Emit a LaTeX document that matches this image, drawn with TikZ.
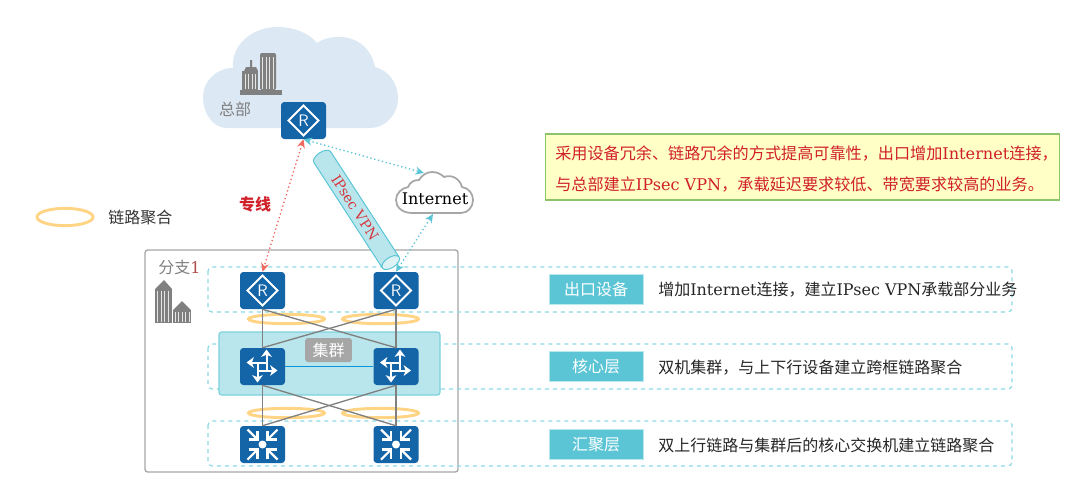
\documentclass[tikz,border=0pt]{standalone}
\usepackage{fontspec}
\setmainfont{DejaVu Serif}
\newfontfamily\cjk{Noto Sans CJK SC}
\usetikzlibrary{arrows.meta,shapes.geometric}
\definecolor{devblue}{HTML}{1464A8}
\definecolor{layerteal}{HTML}{5BC5D5}
\definecolor{dashteal}{HTML}{8ADAE4}
\definecolor{ringgold}{HTML}{FFD485}
\definecolor{linkgray}{HTML}{808080}
\definecolor{noteRed}{HTML}{D0202A}
\definecolor{hqblue}{HTML}{DCE8F4}
\definecolor{clusterfill}{HTML}{B9E6EC}
\definecolor{notefill}{HTML}{FFFFC6}
\definecolor{noteedge}{HTML}{8CC46A}
\definecolor{wanred}{HTML}{EE6A60}
\newcommand{\zh}[1]{{\cjk #1}}
\tikzset{
  devbox/.style={fill=devblue,rounded corners=2.5pt,minimum width=33.75pt,minimum height=27.75pt,inner sep=0pt},
  layerbox/.style={draw=dashteal,dashed,line width=0.9pt,rounded corners=3pt},
  layertag/.style={fill=layerteal,draw=dashteal!60,text=white,minimum width=70.5pt,minimum height=22.5pt,inner sep=0pt,font=\fontsize{12}{14}\selectfont},
  layertext/.style={anchor=west,inner sep=0pt,text=black!85,font=\fontsize{12}{14}\selectfont},
  lagring/.style={ellipse,draw=ringgold,line width=2.2pt,minimum width=57pt,minimum height=7pt,inner sep=0pt},
  uplink/.style={draw=linkgray,line width=1pt},
  redarrow/.style={draw=wanred,dotted,line width=1pt,{Stealth[length=6.5pt,width=6pt]}-{Stealth[length=6.5pt,width=6pt]}},
  tealarrow/.style={draw=layerteal,dotted,line width=1pt,{Stealth[length=6.5pt,width=6pt]}-{Stealth[length=6.5pt,width=6pt]}},
  arrowwhite/.style={draw=white,line width=1.5pt,-{Stealth[length=5.5pt,width=8pt,inset=1.5pt]}},
  routericon/.pic={
    \draw[white,line width=1.5pt] (0,-15) -- (15,0) -- (0,15) -- (-15,0) -- cycle;
    \node[white,inner sep=0pt,font=\sffamily\fontsize{12.5}{14}\selectfont] {R};
  },
  coreicon/.pic={
    \draw[arrowwhite] (4,4) -- (4,-17);
    \draw[arrowwhite] (-4,4) -- (15,4);
    \draw[arrowwhite] (-5,-4) -- (-5,16);
    \draw[arrowwhite] (4,-4) -- (-16,-4);
  },
  aggicon/.pic={
    \fill[white] (0,0) circle (4);
    \foreach \dx/\dy in {1/1,1/-1,-1/1,-1/-1}{
      \draw[white,line width=1.6pt] (15*\dx,15*\dy) -- (6*\dx,6*\dy);
      \draw[white,line width=1.6pt] (14*\dx,5*\dy) -- (5*\dx,5*\dy) -- (5*\dx,14*\dy);
    }
  },
}
\begin{document}
\begin{tikzpicture}[x=0.75pt,y=-0.75pt]
\useasboundingbox (0,0) rectangle (1085,486);

%head office cloud
\fill[hqblue] (227,128) .. controls (212,128) and (203,112) .. (203,98) .. controls (203,80) and (217,68) .. (233,68) .. controls (231,45) and (252,27) .. (277,27) .. controls (295,27) and (310,34) .. (317,43) .. controls (324,38) and (332,37) .. (340,37) .. controls (358,37) and (372,50) .. (375,67) .. controls (388,70) and (398,83) .. (398,98) .. controls (398,115) and (385,128) .. (370,128) -- cycle;
%head office building
\fill[linkgray] (240,90) rectangle (282,95);
\fill[linkgray] (242,71) rectangle (258,90);
\fill[linkgray] (244,71) -- (246,67) -- (250,67) -- (250,60) -- (252,60) -- (252,67) -- (256,67) -- (258,71) -- cycle;
\fill[linkgray,rounded corners=1.5pt] (260,53) rectangle (276,90);
\draw[white!80!linkgray,line width=0.4pt,step=3.5] (243.5,74) grid (257,89);
\draw[white!80!linkgray,line width=0.4pt,step=3.5] (261.5,57) grid (275,89);
\node[text=linkgray,inner sep=0pt,font=\fontsize{12}{14}\selectfont] (hqlabel) at (235,109) {\zh{总部}};

%branch frame
\draw[draw=black!35,line width=1pt,rounded corners=2pt] (145,250) rectangle (458,472);
\node[text=linkgray,inner sep=0pt,anchor=west,font=\fontsize{12}{14}\selectfont] (branchlabel) at (158,267) {\zh{分支}\textcolor{red!40!gray}{1}};
%branch buildings
\fill[linkgray] (155,289) rectangle (172,323);
\fill[linkgray] (155,289) -- (164,280) -- (172,289) -- cycle;
\fill[linkgray] (173,310) rectangle (191,323);
\fill[linkgray] (173,310) -- (182,301) -- (191,310) -- cycle;
\draw[white!80!linkgray,line width=0.4pt,step=3.5] (157,291) grid (171,322);
\draw[white!80!linkgray,line width=0.4pt,step=3.5] (175,312) grid (190,322);

%layer bands
\draw[layerbox] (208,267) rectangle (1012,312);
\draw[layerbox] (208,344) rectangle (1012,389);
\draw[layerbox] (208,421) rectangle (1012,466);
\fill[fill=clusterfill,draw=layerteal!80,line width=0.9pt,rounded corners=2pt] (219,332) rectangle (440,395);

%devices
\node[devbox] (rtHQ) at (303.5,120.5) {};
\node[devbox] (rtL) at (262.5,290.5) {};
\node[devbox] (rtR) at (396,290.5) {};
\node[devbox] (swL) at (262.5,366.5) {};
\node[devbox] (swR) at (396,366.5) {};
\node[devbox] (agL) at (262.5,444.5) {};
\node[devbox] (agR) at (396,444.5) {};

%link aggregation rings
\node[lagring] (lagA) at (286.5,319) {};
\node[lagring] (lagB) at (380.5,319) {};
\node[lagring] (lagC) at (286.5,413) {};
\node[lagring] (lagD) at (380.5,413) {};
\node[lagring,minimum width=42pt,minimum height=13pt] (lagkey) at (65,217) {};
\node[text=black!80,inner sep=0pt,anchor=west,font=\fontsize{12}{14}\selectfont] (lagtext) at (108,217) {\zh{链路聚合}};

%uplinks
\draw[uplink] (rtL.south) -- (swL.north);
\draw[uplink] (rtL.south) -- (swR.north);
\draw[uplink] (rtR.south) -- (swL.north);
\draw[uplink] (rtR.south) -- (swR.north);
\draw[uplink] (swL.south) -- (agL.north);
\draw[uplink] (swL.south) -- (agR.north);
\draw[uplink] (swR.south) -- (agL.north);
\draw[uplink] (swR.south) -- (agR.north);
\draw[draw=cyan!80!blue,line width=0.9pt] (swL) -- (swR);
\node[fill=black!35,text=white,rounded corners=2pt,minimum width=35pt,minimum height=18pt,inner sep=0pt,font=\fontsize{12}{14}\selectfont] (clusterlabel) at (328.5,350) {\zh{集群}};

\pic at (rtHQ) {routericon};
\pic at (rtL) {routericon};
\pic at (rtR) {routericon};
\pic at (swL) {coreicon};
\pic at (swR) {coreicon};
\pic at (agL) {aggicon};
\pic at (agR) {aggicon};

%internet cloud
\draw[fill=white,draw=black!35,line width=1.3pt] (412,213) .. controls (402,213) and (396,207) .. (396,200) .. controls (396,193) and (402,188) .. (408,187) .. controls (410,182) and (414,180) .. (419,180) .. controls (422,175) and (427,172) .. (432,172) .. controls (437,172) and (441,174) .. (444,177) .. controls (452,174) and (460,179) .. (462,187) .. controls (469,188) and (473,194) .. (473,200) .. controls (473,207) and (468,213) .. (461,213) -- cycle;
\node[inner sep=0pt,font=\fontsize{12}{14}\selectfont] (inet) at (435,199) {Internet};
\coordinate (inettop) at (424,173);
\coordinate (inetbot) at (433,214);

%vpn tunnel
\node[cylinder,rotate=-57,shape aspect=1,draw=layerteal,line width=0.75pt,cylinder uses custom fill,cylinder body fill=clusterfill,cylinder end fill=clusterfill!50,minimum width=15pt,minimum height=102pt,inner sep=0pt,text=noteRed!90,font=\fontsize{10.5}{12}\selectfont] (tunnel) at (355,207.5) {IPsec VPN};

%wan links
\draw[redarrow] (rtHQ.south) -- (rtL.north);
\draw[tealarrow] (rtHQ.south) -- (inettop);
\draw[tealarrow] (rtR.north) -- (inetbot);
\node[text=noteRed,inner sep=0pt,font=\bfseries\fontsize{12}{14}\selectfont] (leasedlabel) at (255,204) {\zh{专线}};

%note box
\node[draw=noteedge,fill=notefill,line width=0.9pt,minimum width=386pt,minimum height=49.5pt,inner sep=0pt] (notebox) at (802.5,167) {};
\node[text=noteRed,inner sep=0pt,anchor=west,font=\fontsize{12.1}{14}\selectfont] (noteA) at (555,154) {\zh{采用设备冗余、链路冗余的方式提高可靠性，出口增加}Internet\zh{连接，}};
\node[text=noteRed,inner sep=0pt,anchor=west,font=\fontsize{12.1}{14}\selectfont] (noteB) at (555,185) {\zh{与总部建立}IPsec VPN\zh{，承载延迟要求较低、带宽要求较高的业务。}};

%layer tags
\node[layertag] (tagexit) at (596,289) {\zh{出口设备}};
\node[layertag] (tagcore) at (596,366.5) {\zh{核心层}};
\node[layertag] (tagagg) at (596,444.5) {\zh{汇聚层}};
\node[layertext] (textexit) at (658,289.5) {\zh{增加}Internet\zh{连接，建立}IPsec VPN\zh{承载部分业务}};
\node[layertext] (textcore) at (658,367.5) {\zh{双机集群，与上下行设备建立跨框链路聚合}};
\node[layertext] (textagg) at (658,445.5) {\zh{双上行链路与集群后的核心交换机建立链路聚合}};
\end{tikzpicture}
\end{document}
